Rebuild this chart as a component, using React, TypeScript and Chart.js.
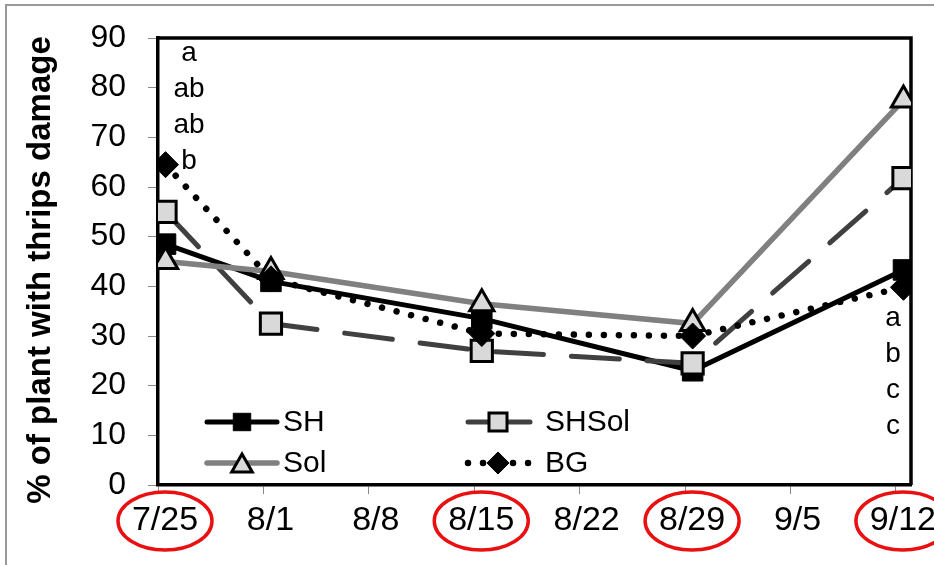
import { useEffect, useRef } from 'react';
import { Chart, registerables } from 'chart.js';

Chart.register(...registerables);

// ---- data ----
const xTickLabels = ['7/25', '8/1', '8/8', '8/15', '8/22', '8/29', '9/5', '9/12'];
const sampleDays = [0, 7, 21, 35, 49]; // days after 7/25
const SH = [48.5, 41, 33.5, 23, 43.3];
const SHSol = [55, 32.5, 27, 24.5, 61.8];
const Sol = [45, 43, 36.5, 32.5, 77.5];
const BG = [64.5, 41.5, 30.5, 30, 39.8];
const yTicks = [0, 10, 20, 30, 40, 50, 60, 70, 80, 90];
const circledLabels = ['7/25', '8/15', '8/29', '9/12'];
const firstDateLetters = ['a', 'ab', 'ab', 'b'];
const lastDateLetters = ['a', 'b', 'c', 'c'];
const yTitle = '% of plant with thrips damage';

const FONT = '"Liberation Sans", Arial, sans-serif';

function drawMarker(ctx: CanvasRenderingContext2D, style: string, x: number, y: number, r: number, fill: string, stroke: string, bw: number) {
  ctx.save();
  ctx.beginPath();
  if (style === 'rect') {
    const s = Math.SQRT1_2 * r;
    ctx.rect(x - s, y - s, 2 * s, 2 * s);
  } else if (style === 'triangle') {
    for (let k = 0; k < 3; k++) {
      const a = (k * 2 * Math.PI) / 3;
      const px = x + Math.sin(a) * r;
      const py = y - Math.cos(a) * r;
      if (k === 0) ctx.moveTo(px, py); else ctx.lineTo(px, py);
    }
    ctx.closePath();
  } else {
    ctx.moveTo(x, y - r);
    ctx.lineTo(x + r, y);
    ctx.lineTo(x, y + r);
    ctx.lineTo(x - r, y);
    ctx.closePath();
  }
  ctx.fillStyle = fill;
  ctx.fill();
  ctx.lineWidth = bw;
  ctx.strokeStyle = stroke;
  ctx.lineJoin = 'miter';
  ctx.stroke();
  ctx.restore();
}

const decoPlugin = {
  id: 'deco',
  beforeDraw(c: any) {
    const ctx = c.ctx as CanvasRenderingContext2D;
    ctx.save();
    ctx.fillStyle = '#fff';
    ctx.fillRect(0, 0, c.width, c.height);
    ctx.strokeStyle = '#999';
    ctx.lineWidth = 2;
    ctx.strokeRect(6, 5, c.width + 20, c.height + 20);
    ctx.restore();
  },
  beforeDatasetsDraw(c: any) {
    const ctx = c.ctx as CanvasRenderingContext2D;
    const a = c.chartArea;
    ctx.save();
    ctx.strokeStyle = '#000';
    ctx.lineWidth = 3.5;
    ctx.beginPath();
    ctx.moveTo(a.left, a.top);
    ctx.lineTo(a.right, a.top);
    ctx.lineTo(a.right, a.bottom);
    ctx.stroke();
    ctx.restore();
  },
  afterDraw(c: any) {
    const ctx = c.ctx as CanvasRenderingContext2D;
    const xs = c.scales.x;
    const ys = c.scales.y;
    ctx.save();
    // y title
    ctx.save();
    ctx.translate(41, 270);
    ctx.rotate(-Math.PI / 2);
    ctx.font = `bold 33px ${FONT}`;
    ctx.fillStyle = '#000';
    ctx.textAlign = 'center';
    ctx.textBaseline = 'middle';
    ctx.fillText(yTitle, 0, 0);
    ctx.restore();

    // significance letters
    ctx.font = `28px ${FONT}`;
    ctx.fillStyle = '#000';
    ctx.textAlign = 'center';
    ctx.textBaseline = 'middle';
    const lx = xs.getPixelForValue(sampleDays[0]) + 31;
    const ly = ys.getPixelForValue(87);
    firstDateLetters.forEach((t, i) => ctx.fillText(t, lx, ly + i * 36));
    const rx = xs.getPixelForValue(sampleDays[sampleDays.length - 1]) - 3;
    const ry = ys.getPixelForValue(33.6);
    lastDateLetters.forEach((t, i) => ctx.fillText(t, rx, ry + i * 36));

    // legend
    const colLineStart = [207, 468];
    const colLineEnd = [277, 530];
    const colText = [283, 545];
    const rowY = [422, 463];
    ctx.font = `30px ${FONT}`;
    ctx.textAlign = 'left';
    c.data.datasets.forEach((ds: any, i: number) => {
      const col = i % 2;
      const row = Math.floor(i / 2);
      const y = rowY[row];
      ctx.save();
      ctx.strokeStyle = ds.borderColor;
      ctx.lineWidth = ds.borderWidth;
      ctx.lineCap = 'round';
      ctx.setLineDash(ds.label === 'BG' ? ds.borderDash : []);
      ctx.beginPath();
      ctx.moveTo(colLineStart[col], y);
      ctx.lineTo(colLineEnd[col], y);
      ctx.stroke();
      ctx.restore();
      const mx = (colLineStart[col] + colLineEnd[col]) / 2;
      drawMarker(ctx, ds.pointStyle, mx + (col === 0 ? 0 : -1), y + (ds.pointStyle === 'triangle' ? 3 : 0), ds.pointRadius * 0.85, ds.pointBackgroundColor, ds.pointBorderColor, ds.pointBorderWidth);
      ctx.fillStyle = '#000';
      ctx.fillText(ds.label, colText[col], y + 1);
    });

    // red ellipses round highlighted dates
    ctx.strokeStyle = '#e81010';
    ctx.lineWidth = 3.5;
    circledLabels.forEach((lab) => {
      const idx = xTickLabels.indexOf(lab);
      const cx = xs.getPixelForValue(idx * 7) + 7;
      ctx.beginPath();
      ctx.ellipse(cx, 521, 47, 29, 0, 0, Math.PI * 2);
      ctx.stroke();
    });
    ctx.restore();
  },
};

export default function App() {
  const ref = useRef<HTMLCanvasElement>(null);
  useEffect(() => {
    document.body.style.margin = '0';
    const toXY = (ys: number[]) => ys.map((y, i) => ({ x: sampleDays[i] + 0.5, y }));
    const chart = new Chart(ref.current!, {
      type: 'line',
      data: {
        datasets: [
          {
            label: 'SH', data: toXY(SH), borderColor: '#000', borderWidth: 5,
            pointStyle: 'rect', pointRadius: 14.5, pointBackgroundColor: '#000', pointBorderColor: '#000', pointBorderWidth: 1, order: 4,
          },
          {
            label: 'SHSol', data: toXY(SHSol), borderColor: '#404040', borderWidth: 5, borderDash: [48, 28], borderCapStyle: 'round',
            pointStyle: 'rect', pointRadius: 15, pointBackgroundColor: '#d9d9d9', pointBorderColor: '#000', pointBorderWidth: 3, order: 3,
          },
          {
            label: 'Sol', data: toXY(Sol), borderColor: '#808080', borderWidth: 5.5,
            pointStyle: 'triangle', pointRadius: 14, pointBackgroundColor: '#d9d9d9', pointBorderColor: '#000', pointBorderWidth: 3, order: 2,
          },
          {
            label: 'BG', data: toXY(BG), borderColor: '#000', borderWidth: 6.5, borderDash: [0.01, 15], borderCapStyle: 'round',
            pointStyle: 'rectRot', pointRadius: 13, pointBackgroundColor: '#000', pointBorderColor: '#000', pointBorderWidth: 1, order: 1,
          },
        ] as any,
      },
      options: {
        responsive: false,
        animation: false,
        events: [],
        layout: { padding: { top: 38, right: 23, left: 0, bottom: 0 } },
        elements: { line: { tension: 0 } },
        plugins: { legend: { display: false }, tooltip: { enabled: false } },
        scales: {
          x: {
            type: 'linear', min: 0, max: 50,
            afterBuildTicks: (s: any) => { s.ticks = xTickLabels.map((_, i) => ({ value: i * 7 })); },
            afterFit: (s: any) => { s.height = 80; s.paddingLeft = 0; s.paddingRight = 0; },
            grid: { display: true, drawOnChartArea: false, drawTicks: true, tickLength: 9, color: '#888', lineWidth: 1 },
            border: { display: true, color: '#000', width: 3.5 },
            ticks: {
              callback: (v: any) => xTickLabels[Math.round(Number(v) / 7)],
              font: { family: FONT, size: 34 }, color: '#000', padding: 6, labelOffset: 7, maxRotation: 0, autoSkip: false,
            },
          },
          y: {
            min: 0, max: 90,
            afterBuildTicks: (s: any) => { s.ticks = yTicks.map((v) => ({ value: v })); },
            afterFit: (s: any) => { s.width = 158; s.paddingTop = 0; s.paddingBottom = 0; },
            grid: { display: true, drawOnChartArea: false, drawTicks: true, tickLength: 10, color: '#888', lineWidth: 1 },
            border: { display: true, color: '#000', width: 3.5 },
            ticks: { font: { family: FONT, size: 32 }, color: '#000', padding: 22 },
          },
        },
      },
      plugins: [decoPlugin],
    } as any);
    return () => chart.destroy();
  }, []);
  return <canvas ref={ref} width={934} height={565} style={{ display: 'block' }} />;
}
